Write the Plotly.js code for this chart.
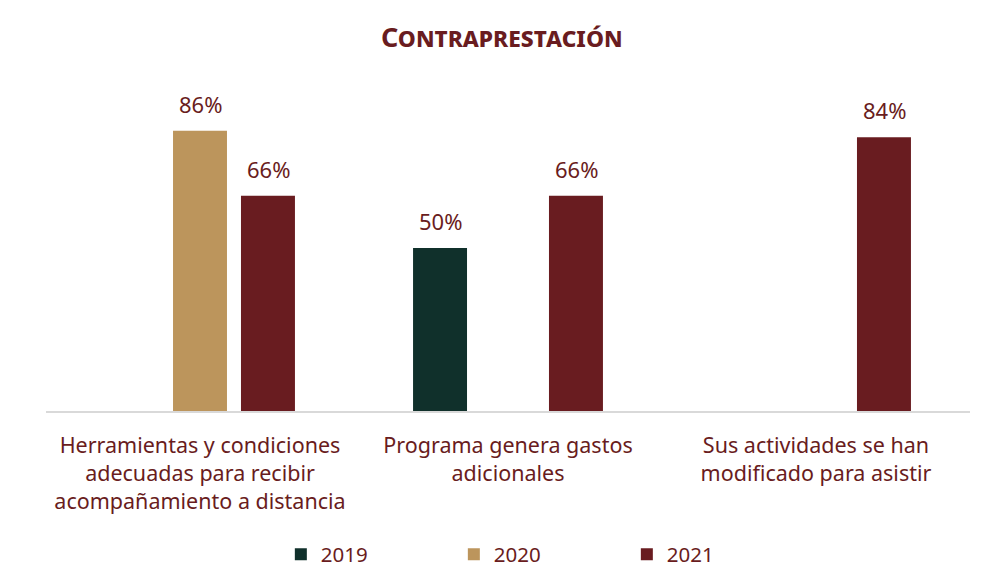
<!DOCTYPE html>
<html>
<head>
<meta charset="utf-8">
<script src="https://cdn.plot.ly/plotly-3.0.1.min.js"></script>
<style>html,body{margin:0;padding:0;background:#fff;}#chart{width:984px;height:578px;}</style>
</head>
<body>
<div id="chart"></div>
<script>
const categories = [
  "Herramientas y condiciones<br>adecuadas para recibir<br>acompañamiento a distancia",
  "Programa genera gastos<br>adicionales",
  "Sus actividades se han<br>modificado para asistir"
];
const seriesNames = ["2019", "2020", "2021"];
const values2019 = [null, 50, null];
const values2020 = [86, null, null];
const values2021 = [66, 66, 84];
const colors = ["#10302B", "#BC955C", "#691C20"];
const textColor = "#691C20";
const fontFamily = "'Noto Sans', 'Open Sans', sans-serif";

const allValues = [values2019, values2020, values2021];
const traces = allValues.map((vals, i) => ({
  type: "bar",
  name: seriesNames[i],
  x: categories,
  y: vals,
  marker: {color: colors[i]},
  hoverinfo: "skip"
}));

// value labels as annotations at the bars' data coordinates
const slotPx = 68; // pixel offset between bars within a group
const annotations = [];
allValues.forEach((vals, i) => {
  vals.forEach((v, j) => {
    if (v === null) return;
    annotations.push({
      x: categories[j], y: v, xref: "x", yref: "y",
      xshift: (i - 1) * slotPx, yshift: 10,
      yanchor: "bottom", xanchor: "center",
      text: v + "%", showarrow: false,
      font: {size: 22, color: textColor, family: fontFamily}
    });
  });
});

const layout = {
  width: 984, height: 578,
  paper_bgcolor: "#ffffff", plot_bgcolor: "#ffffff",
  margin: {l: 46, r: 14, t: 85, b: 167, autoexpand: false},
  font: {family: fontFamily, color: textColor, size: 20},
  title: {
    text: "<b>Contraprestación</b>",
    font: {family: fontFamily, size: 27, color: textColor, variant: "small-caps"},
    xref: "container", x: 0.51, xanchor: "center", y: 0.935, yanchor: "middle"
  },
  barmode: "group",
  bargap: 0.338,
  bargroupgap: 0.206,
  xaxis: {
    showline: true, linecolor: "#d9d9d9", linewidth: 1.5,
    showgrid: false, zeroline: false, ticks: "",
    ticklabelstandoff: 15,
    tickfont: {size: 21.5, color: textColor, family: fontFamily},
    fixedrange: true, automargin: false
  },
  yaxis: {
    range: [0, 100], visible: false, showgrid: false, zeroline: false, fixedrange: true
  },
  annotations: annotations,
  showlegend: true,
  legend: {
    orientation: "h", x: 0.535, xanchor: "center", y: -0.44, yanchor: "middle",
    font: {size: 20.5, color: textColor, family: fontFamily},
    entrywidth: 128, traceorder: "normal"
  }
};

Plotly.newPlot("chart", traces, layout, {displayModeBar: false, staticPlot: true});
</script>
</body>
</html>
